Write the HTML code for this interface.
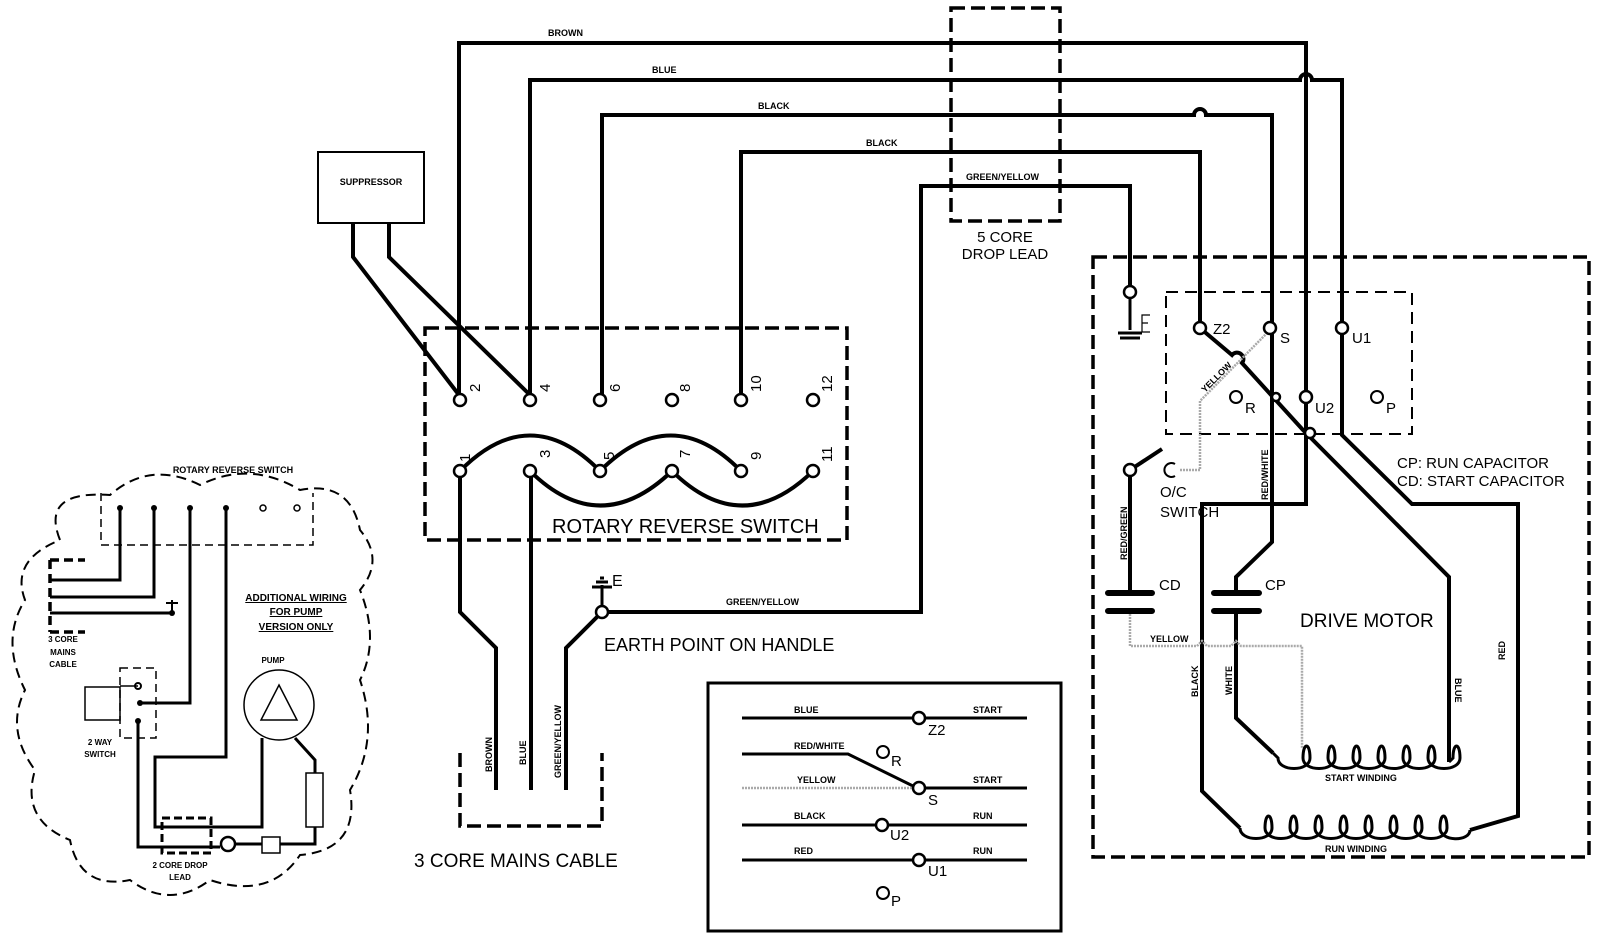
<!DOCTYPE html>
<html><head><meta charset="utf-8"><style>
html,body{margin:0;padding:0;background:#fff}
svg{display:block}
text{font-family:"Liberation Sans",sans-serif;fill:#000}
.s{font-size:9px;font-weight:bold}
.m{font-size:17px}
.w{fill:none;stroke:#000;stroke-width:4;stroke-linejoin:miter}
.t{fill:none;stroke:#000;stroke-width:3}
.d{fill:none;stroke:#000;stroke-width:3.5;stroke-dasharray:14 6}
.d2{fill:none;stroke:#000;stroke-width:2;stroke-dasharray:12 7}
.y{fill:none;stroke:#aaa;stroke-width:2.5;stroke-dasharray:2 1}
.c{fill:#fff;stroke:#000;stroke-width:2.5}
.c2{fill:none;stroke:#000;stroke-width:2}
</style></head><body>
<svg width="1600" height="938" viewBox="0 0 1600 938" xmlns="http://www.w3.org/2000/svg">
<rect width="1600" height="938" fill="#fff"/>

<!-- top wires -->
<path class="w" d="M459 400 V43 H1306 V397"/>
<path class="w" d="M530 400 V80 H1300 a6 6 0 0 1 12 0 H1342 V328"/>
<path class="w" d="M602 400 V115 H1194 a6 6 0 0 1 12 0 H1272 V328"/>
<path class="w" d="M741 400 V152 H1200 V328"/>
<path class="w" d="M600 612 H921 V186 H1130 V292"/>
<text class="s" x="548" y="36">BROWN</text>
<text class="s" x="652" y="73">BLUE</text>
<text class="s" x="758" y="109">BLACK</text>
<text class="s" x="866" y="146">BLACK</text>
<text class="s" x="966" y="180">GREEN/YELLOW</text>

<!-- 5 core drop lead -->
<rect class="d" x="951" y="8" width="109" height="213"/>
<text class="m" x="1005" y="242" text-anchor="middle" style="font-size:15px">5 CORE</text>
<text class="m" x="1005" y="259" text-anchor="middle" style="font-size:15px">DROP LEAD</text>

<!-- suppressor -->
<rect x="318" y="152" width="106" height="71" fill="#fff" stroke="#000" stroke-width="2"/>
<text class="s" x="371" y="185" text-anchor="middle">SUPPRESSOR</text>
<path class="w" d="M353 223 V257 L459 395"/>
<path class="w" d="M389 223 V257 L530 395"/>

<!-- rotary switch -->
<rect class="d" x="425" y="328" width="422" height="212"/>
<g class="w">
<path d="M460 471 Q530 400 600 471"/>
<path d="M600 471 Q671 400 741 471"/>
<path d="M530 471 Q600 540 672 471"/>
<path d="M672 471 Q742 540 813 471"/>
<path d="M460 471 V612 L496 648 V790"/>
<path d="M531 471 V790"/>
<path d="M602 612 L566 648 V790"/>
</g>
<g>
<circle class="c" cx="460" cy="400" r="6"/><circle class="c" cx="530" cy="400" r="6"/><circle class="c" cx="600" cy="400" r="6"/>
<circle class="c" cx="672" cy="400" r="6"/><circle class="c" cx="741" cy="400" r="6"/><circle class="c" cx="813" cy="400" r="6"/>
<circle class="c" cx="460" cy="471" r="6"/><circle class="c" cx="530" cy="471" r="6"/><circle class="c" cx="600" cy="471" r="6"/>
<circle class="c" cx="672" cy="471" r="6"/><circle class="c" cx="741" cy="471" r="6"/><circle class="c" cx="813" cy="471" r="6"/>
</g>
<g style="font-size:15px">
<text transform="translate(480,392) rotate(-90)">2</text>
<text transform="translate(550,392) rotate(-90)">4</text>
<text transform="translate(620,392) rotate(-90)">6</text>
<text transform="translate(690,392) rotate(-90)">8</text>
<text transform="translate(761,392) rotate(-90)">10</text>
<text transform="translate(832,392) rotate(-90)">12</text>
<text transform="translate(470,462) rotate(-90)">1</text>
<text transform="translate(550,458) rotate(-90)">3</text>
<text transform="translate(614,460) rotate(-90)">5</text>
<text transform="translate(690,458) rotate(-90)">7</text>
<text transform="translate(761,460) rotate(-90)">9</text>
<text transform="translate(832,462) rotate(-90)">11</text>
</g>
<text class="m" x="552" y="533" style="font-size:20px">ROTARY REVERSE SWITCH</text>

<!-- earth point -->
<circle class="c" cx="602" cy="612" r="6"/>
<path class="t" d="M602 606 V585 M592 587 H612 M596 582 H608 M600 578 H604"/>
<text x="612" y="586" style="font-size:16px">E</text>
<text class="s" x="726" y="605">GREEN/YELLOW</text>
<text class="m" x="604" y="651" style="font-size:18px">EARTH POINT ON HANDLE</text>

<!-- 3 core mains cable -->
<path class="d" d="M460 753 V826 H602 V753"/>
<text class="s" transform="translate(492,772) rotate(-90)">BROWN</text>
<text class="s" transform="translate(526,765) rotate(-90)">BLUE</text>
<text class="s" transform="translate(561,778) rotate(-90)">GREEN/YELLOW</text>
<text class="m" x="414" y="867" style="font-size:19px">3 CORE MAINS CABLE</text>

<!-- bottom table -->
<rect x="708" y="683" width="353" height="248" fill="none" stroke="#000" stroke-width="3"/>
<g class="t">
<path d="M742 718 H913 M925 718 H1027"/>
<path d="M742 754 H848 L913 786"/>
<path d="M925 788 H1027"/>
<path d="M742 825 H876 M888 825 H1027"/>
<path d="M742 860 H913 M925 860 H1027"/>
</g>
<path class="y" d="M742 788 H913"/>
<circle class="c" cx="919" cy="718" r="6"/><circle class="c" cx="919" cy="788" r="6"/>
<circle class="c" cx="882" cy="825" r="6"/><circle class="c" cx="919" cy="860" r="6"/>
<circle class="c2" cx="883" cy="752" r="6"/><circle class="c2" cx="883" cy="893" r="6"/>
<g class="s">
<text x="794" y="713">BLUE</text><text x="973" y="713">START</text>
<text x="794" y="749">RED/WHITE</text>
<text x="797" y="783">YELLOW</text><text x="973" y="783">START</text>
<text x="794" y="819">BLACK</text><text x="973" y="819">RUN</text>
<text x="794" y="854">RED</text><text x="973" y="854">RUN</text>
</g>
<g style="font-size:15px">
<text x="928" y="735">Z2</text><text x="891" y="766">R</text><text x="928" y="805">S</text>
<text x="890" y="840">U2</text><text x="928" y="876">U1</text><text x="891" y="906">P</text>
</g>

<!-- motor -->
<rect class="d" x="1093" y="257" width="496" height="600"/>
<rect class="d2" x="1166" y="292" width="246" height="142"/>
<circle class="c" cx="1130" cy="292" r="6"/>
<path class="t" d="M1130 298 V330 M1118 333 H1142 M1120 338 H1140"/>
<path d="M1150 315 H1142 V332 H1150 M1142 323 H1148" fill="none" stroke="#000" stroke-width="1.2"/>

<!-- motor wires -->
<path class="w" d="M1200 328 L1232 355 a6 6 0 0 1 10 8 L1303 430 L1449 577 V762"/>
<path class="w" d="M1272 328 V542 L1236 577 V593"/>
<path class="w" d="M1306 397 V504 H1202 V791 L1240 828"/>
<path class="w" d="M1342 328 V435 L1412 504 H1518 V816 L1470 830"/>
<path class="w" d="M1236 611 V718 L1273 753"/>
<path class="w" d="M1130 470 V593"/>
<path class="w" d="M1130 470 L1162 449"/>
<path class="y" d="M1180 470 H1200 V401 L1268 332"/>
<path class="y" d="M1130 611 V646 H1197 l5 -5 l5 5 H1231 l5 -5 l5 5 H1302 V748"/>
<circle class="c" cx="1200" cy="328" r="6"/><circle class="c" cx="1270" cy="328" r="6"/>
<circle class="c" cx="1342" cy="328" r="6"/><circle class="c" cx="1306" cy="397" r="6"/>
<circle class="c" cx="1310" cy="433" r="5"/><circle class="c" cx="1276" cy="397" r="4"/>
<circle class="c" cx="1130" cy="470" r="6"/>
<circle class="c2" cx="1236" cy="397" r="6"/><circle class="c2" cx="1377" cy="397" r="6"/>
<path d="M1175 464 A7 7 0 1 0 1175 476" fill="none" stroke="#000" stroke-width="2"/>
<!-- capacitors -->
<g stroke="#000" stroke-width="6" stroke-linecap="round">
<path d="M1108 593 H1152 M1108 611 H1152 M1214 593 H1259 M1214 611 H1259"/>
</g>
<!-- windings -->
<path class="t" d="M1273 753 L1278 758 c0 14 32 14 32 0 c0 -16 -7 -16 -7 0 c0 14 32 14 32 0 c0 -16 -7 -16 -7 0 c0 14 32 14 32 0 c0 -16 -7 -16 -7 0 c0 14 32 14 32 0 c0 -16 -7 -16 -7 0 c0 14 32 14 32 0 c0 -16 -7 -16 -7 0 c0 14 32 14 32 0 c0 -16 -7 -16 -7 0 c0 14 32 14 32 0 c0 -16 -7 -16 -7 0 L1449 762"/>
<path class="t" d="M1240 828 c0 14 32 14 32 0 c0 -16 -7 -16 -7 0 c0 14 32 14 32 0 c0 -16 -7 -16 -7 0 c0 14 32 14 32 0 c0 -16 -7 -16 -7 0 c0 14 32 14 32 0 c0 -16 -7 -16 -7 0 c0 14 32 14 32 0 c0 -16 -7 -16 -7 0 c0 14 32 14 32 0 c0 -16 -7 -16 -7 0 c0 14 32 14 32 0 c0 -16 -7 -16 -7 0 c0 14 32 14 32 0 c0 -16 -7 -16 -7 0 c0 14 30 14 30 2"/>
<g style="font-size:15px">
<text x="1213" y="334">Z2</text><text x="1280" y="343">S</text><text x="1352" y="343">U1</text>
<text x="1315" y="413">U2</text><text x="1245" y="413">R</text><text x="1386" y="413">P</text>
<text x="1160" y="497">O/C</text><text x="1160" y="517">SWITCH</text>
<text x="1159" y="590">CD</text><text x="1265" y="590">CP</text>
<text x="1397" y="468">CP:  RUN  CAPACITOR</text>
<text x="1397" y="486">CD:  START  CAPACITOR</text>
</g>
<text x="1300" y="627" style="font-size:19px">DRIVE  MOTOR</text>
<g class="s">
<text transform="translate(1205,393) rotate(-45)">YELLOW</text>
<text transform="translate(1268,500) rotate(-90)">RED/WHITE</text>
<text transform="translate(1127,560) rotate(-90)">RED/GREEN</text>
<text x="1150" y="642">YELLOW</text>
<text transform="translate(1198,697) rotate(-90)">BLACK</text>
<text transform="translate(1232,695) rotate(-90)">WHITE</text>
<text transform="translate(1455,678) rotate(90)">BLUE</text>
<text transform="translate(1505,660) rotate(-90)">RED</text>
<text x="1325" y="781">START WINDING</text>
<text x="1325" y="852">RUN WINDING</text>
</g>

<!-- left cloud -->
<path d="M60 540 Q40 490 110 495 Q150 460 200 485 Q250 460 300 490 Q350 480 360 530 Q385 560 360 590 Q380 640 360 680 Q380 740 350 790 Q360 850 300 855 Q270 900 210 880 Q170 910 130 880 Q80 890 70 840 Q20 820 35 770 Q5 730 25 690 Q0 640 25 600 Q10 560 60 540 Z" fill="none" stroke="#000" stroke-width="2" stroke-dasharray="10 6"/>
<text class="s" x="233" y="473" text-anchor="middle">ROTARY REVERSE SWITCH</text>
<path d="M101 493 V545 H313 V493" fill="none" stroke="#000" stroke-width="1.5" stroke-dasharray="8 5"/>
<g class="t">
<path d="M120 508 V580 H50"/><path d="M154 508 V597 H50"/>
<path d="M190 508 V703 H140"/><path d="M226 508 V757 H155 V827 H262 V738"/>
<path d="M50 613 H172"/>
<path d="M138 721 V847 H220"/>
<path d="M235 844 H262 M280 844 H315 V827 M315 773 V760 L295 738"/>
<path d="M138 686 H120 M85 687 H120 V720 H85 Z" style="stroke-width:1.5"/>
</g>
<g fill="#000"><circle cx="120" cy="508" r="3"/><circle cx="154" cy="508" r="3"/><circle cx="190" cy="508" r="3"/><circle cx="226" cy="508" r="3"/><circle cx="172" cy="613" r="3"/><circle cx="140" cy="703" r="3"/></g>
<circle cx="263" cy="508" r="3" class="c2" style="stroke-width:1.5"/><circle cx="297" cy="508" r="3" class="c2" style="stroke-width:1.5"/>
<path d="M50 560 V632 M50 560 H85 M50 632 H85" fill="none" stroke="#000" stroke-width="3.5" stroke-dasharray="9 5"/>
<path d="M172 613 V600 M166 603 H178" class="c2"/>
<rect x="120" y="668" width="36" height="70" fill="none" stroke="#000" stroke-width="1.5" stroke-dasharray="8 5"/>
<circle cx="138" cy="686" r="3" class="c2"/><circle cx="138" cy="721" r="3" fill="#000"/>
<rect x="162" y="818" width="49" height="35" fill="none" stroke="#000" stroke-width="3" stroke-dasharray="8 4"/>
<circle cx="228" cy="844" r="7" class="c2" style="stroke-width:2.5"/>
<rect x="262" y="837" width="18" height="16" fill="#fff" stroke="#000" stroke-width="1.5"/>
<rect x="306" y="773" width="17" height="54" fill="#fff" stroke="#000" stroke-width="1.5"/>
<circle cx="279" cy="705" r="35" fill="#fff" stroke="#000" stroke-width="1.5"/>
<path d="M279 685 L297 720 H261 Z" fill="none" stroke="#000" stroke-width="1.5"/>
<g style="font-size:8px;font-weight:bold">
<text x="273" y="663" text-anchor="middle">PUMP</text>
<text x="63" y="642" text-anchor="middle">3 CORE</text><text x="63" y="655" text-anchor="middle">MAINS</text><text x="63" y="667" text-anchor="middle">CABLE</text>
<text x="100" y="745" text-anchor="middle">2 WAY</text><text x="100" y="757" text-anchor="middle">SWITCH</text>
<text x="180" y="868" text-anchor="middle">2 CORE DROP</text><text x="180" y="880" text-anchor="middle">LEAD</text>
</g>
<g style="font-size:10px;font-weight:bold;text-decoration:underline" text-anchor="middle">
<text x="296" y="601">ADDITIONAL WIRING</text><text x="296" y="615">FOR PUMP</text><text x="296" y="630">VERSION ONLY</text>
</g>
</svg>
</body></html>
